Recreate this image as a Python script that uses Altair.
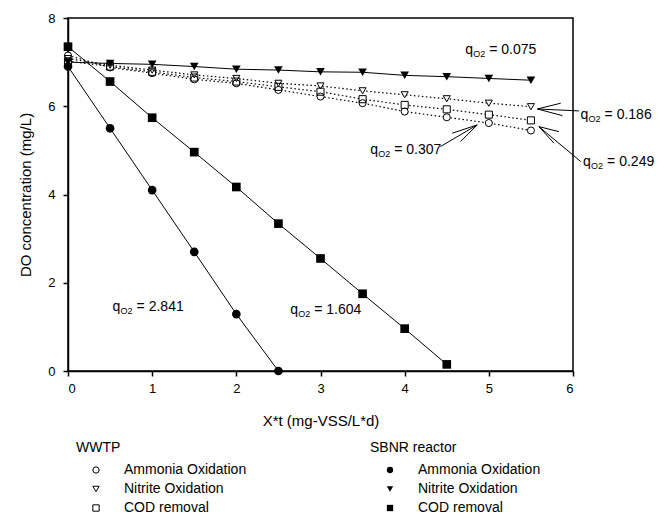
import altair as alt
import pandas as pd

FONT = "Liberation Sans"

# X*t values (mg-VSS/L*d)
x_full = [0, 0.5, 1, 1.5, 2, 2.5, 3, 3.5, 4, 4.5, 5, 5.5]
x_sbnr_amm = [0, 0.5, 1, 1.5, 2, 2.5]
x_sbnr_cod = [0, 0.5, 1, 1.5, 2, 2.5, 3, 3.5, 4, 4.5]

# WWTP sludge, DO (mg/L)
wwtp_ammonia = [7.15, 6.88, 6.75, 6.61, 6.52, 6.37, 6.22, 6.07, 5.88, 5.75, 5.62, 5.45]
wwtp_nitrite = [7.08, 6.93, 6.82, 6.71, 6.63, 6.52, 6.46, 6.35, 6.26, 6.17, 6.07, 5.99]
wwtp_cod = [7.02, 6.90, 6.78, 6.65, 6.56, 6.44, 6.33, 6.16, 6.03, 5.93, 5.81, 5.68]

# SBNR reactor sludge, DO (mg/L)
sbnr_ammonia = [6.90, 5.50, 4.10, 2.70, 1.29, 0.00]
sbnr_nitrite = [7.00, 6.97, 6.95, 6.90, 6.84, 6.82, 6.78, 6.77, 6.70, 6.67, 6.63, 6.59]
sbnr_cod = [7.35, 6.56, 5.74, 4.96, 4.17, 3.34, 2.55, 1.75, 0.96, 0.15]

series_order = ["Ammonia Oxidation", "Nitrite Oxidation", "COD removal"]
shape_range = ["circle", "triangle-down", "square"]

# oxygen uptake rate labels: text, left x, centre y
q_values = ["0.075", "0.186", "0.249", "0.307", "2.841", "1.604"]
q_x = [4.72, 6.09, 6.12, 3.59, 0.53, 2.64]
q_y = [7.27, 5.80, 4.74, 5.01, 1.44, 1.39]

# arrows: tip point and the three far ends (shaft, upper barb, lower barb)
arrow_tip_x = [5.576, 5.595, 4.862]
arrow_tip_y = [5.939, 5.538, 5.577]
arrow_ends_x = [[6.071, 5.854, 5.874], [6.092, 5.833, 5.774], [4.425, 4.564, 4.663]]
arrow_ends_y = [[5.894, 6.068, 5.787], [4.747, 5.425, 5.163], [5.086, 5.389, 5.199]]


def to_long(pairs):
    rows = []
    for name, xs, ys in pairs:
        for xv, yv in zip(xs, ys):
            rows.append({"series": name, "x": xv, "y": yv})
    return pd.DataFrame(rows)


wwtp = to_long([
    ("Ammonia Oxidation", x_full, wwtp_ammonia),
    ("Nitrite Oxidation", x_full, wwtp_nitrite),
    ("COD removal", x_full, wwtp_cod),
])
sbnr = to_long([
    ("Ammonia Oxidation", x_sbnr_amm, sbnr_ammonia),
    ("Nitrite Oxidation", x_full, sbnr_nitrite),
    ("COD removal", x_sbnr_cod, sbnr_cod),
])

labels = pd.DataFrame({"x": q_x, "y": q_y, "value": ["= " + v for v in q_values]})

seg_rows = []
for tx, ty, exs, eys in zip(arrow_tip_x, arrow_tip_y, arrow_ends_x, arrow_ends_y):
    for ex, ey in zip(exs, eys):
        seg_rows.append({"x": tx, "y": ty, "x2": ex, "y2": ey})
segments = pd.DataFrame(seg_rows)

x_axis = alt.Axis(title="X*t (mg-VSS/L*d)", values=[0, 1, 2, 3, 4, 5, 6],
                  format="d", labelPadding=6, titlePadding=18)
y_axis = alt.Axis(title="DO concentration (mg/L)", values=[0, 2, 4, 6, 8],
                  format="d", labelPadding=8, titlePadding=14)
X = alt.X("x:Q", scale=alt.Scale(domain=[0, 6], nice=False), axis=x_axis)
Y = alt.Y("y:Q", scale=alt.Scale(domain=[0, 8], nice=False), axis=y_axis)
SHAPE_SCALE = alt.Scale(domain=series_order, range=shape_range)


def legend(title, lx, fill):
    return alt.Legend(
        title=title, orient="none", legendX=lx, legendY=423, padding=0,
        titleFont=FONT, titleFontSize=14, titleFontWeight="normal", titleColor="black",
        titlePadding=8, labelFont=FONT, labelFontSize=14, labelColor="black",
        symbolSize=40, symbolStrokeColor="black", symbolFillColor=fill,
        symbolStrokeWidth=1, symbolOpacity=1, symbolOffset=13, labelOffset=21,
        rowPadding=5,
    )


wwtp_lines = alt.Chart(wwtp).mark_line(
    color="black", strokeWidth=1.2, strokeDash=[1.5, 2.5]
).encode(x=X, y=Y, detail="series:N")

# white backing so the dotted lines do not show through the open symbols
wwtp_backing = alt.Chart(wwtp).mark_point(
    filled=True, color="white", size=50, opacity=1
).encode(
    x=X, y=Y,
    shape=alt.Shape("series:N", scale=SHAPE_SCALE, legend=None),
)

wwtp_points = alt.Chart(wwtp).mark_point(
    filled=False, color="black", strokeWidth=1, size=50, opacity=1
).encode(
    x=X, y=Y,
    shape=alt.Shape("series:N", scale=SHAPE_SCALE,
                    legend=legend("WWTP", 8, "transparent")),
)

sbnr_lines = alt.Chart(sbnr).mark_line(color="black", strokeWidth=1).encode(
    x=X, y=Y, detail="series:N"
)

sbnr_points = alt.Chart(sbnr).mark_point(
    filled=True, color="black", size=75, opacity=1
).encode(
    x=X, y=Y,
    shape=alt.Shape("series:N", scale=SHAPE_SCALE,
                    legend=legend("SBNR reactor", 302, "black")),
)

arrows = alt.Chart(segments).mark_rule(color="black", strokeWidth=1).encode(
    x=X, y=Y, x2="x2:Q", y2="y2:Q"
)

q_text = alt.Chart(labels).mark_text(
    align="left", baseline="middle", font=FONT, fontSize=14, color="black"
).encode(x=X, y=Y, text=alt.value("q"))
q_sub = alt.Chart(labels).mark_text(
    align="left", baseline="middle", font=FONT, fontSize=9, color="black", dx=8, dy=4
).encode(x=X, y=Y, text=alt.value("O2"))
q_rest = alt.Chart(labels).mark_text(
    align="left", baseline="middle", font=FONT, fontSize=14, color="black", dx=24
).encode(x=X, y=Y, text="value:N")

chart = alt.layer(
    wwtp_lines, sbnr_lines, arrows, wwtp_backing, wwtp_points, sbnr_points,
    q_text, q_sub, q_rest
).resolve_scale(shape="independent").properties(
    width=505, height=353,
    autosize=alt.AutoSizeParams(type="none"),
    padding={"left": 68, "top": 18, "right": 96, "bottom": 143},
    background="white",
).configure_view(
    stroke="black", strokeWidth=1.5
).configure_axis(
    grid=False, domainColor="black", domainWidth=1.5, tickColor="black", tickWidth=1.5,
    tickSize=5, labelFont=FONT, labelFontSize=13, labelColor="black",
    titleFont=FONT, titleFontSize=15, titleFontWeight="normal", titleColor="black",
)

chart.save("out.html", embed_options={"renderer": "svg", "actions": False})
